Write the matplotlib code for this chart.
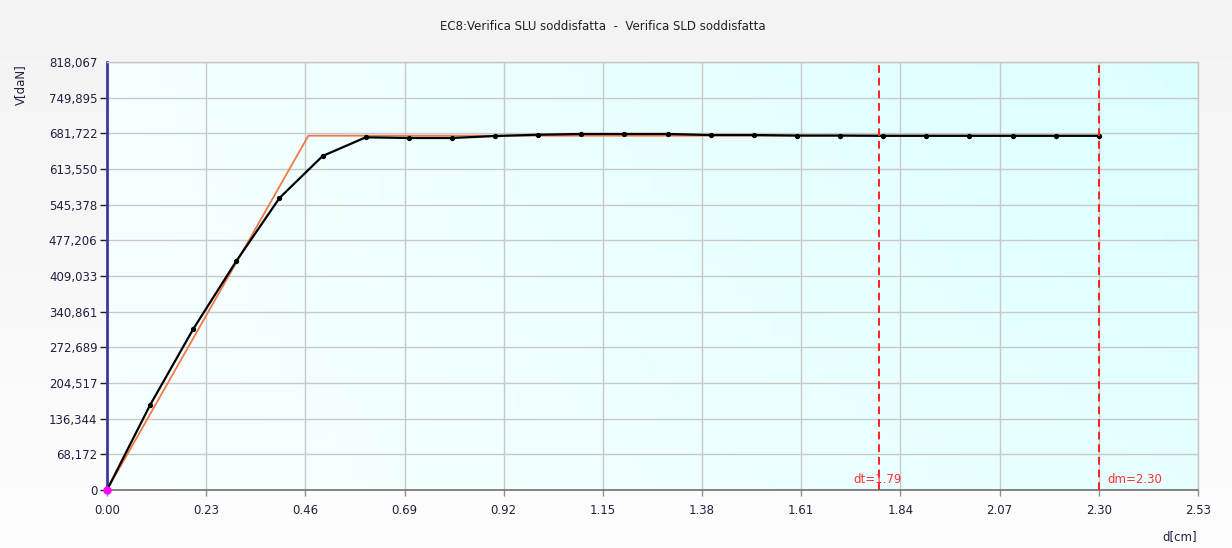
import numpy as np
import matplotlib.pyplot as plt
from matplotlib.colors import to_rgb

# capacity curve (black) sampled every 0.1 cm
d_curve = [0.0, 0.1, 0.2, 0.3, 0.4, 0.5, 0.6, 0.7, 0.8, 0.9, 1.0, 1.1,
           1.2, 1.3, 1.4, 1.5, 1.6, 1.7, 1.8, 1.9, 2.0, 2.1, 2.2, 2.3]
v_curve = [0.0, 162.5, 307.7, 437.7, 558.1, 638.4, 674.1, 672.8, 672.8, 676.6, 679.1, 680.5,
           680.5, 680.5, 678.5, 678.5, 677.5, 677.5, 677.0, 677.0, 677.0, 677.0, 677.0, 677.0]

# equivalent bilinear (orange)
d_bilin = [0.0, 0.467, 2.30]
v_bilin = [0.0, 677.2, 677.2]

dt = 1.79
dm = 2.30

x_ticks = [0.00, 0.23, 0.46, 0.69, 0.92, 1.15, 1.38, 1.61, 1.84, 2.07, 2.30, 2.53]
y_ticks = [0.0, 68.172, 136.344, 204.517, 272.689, 340.861, 409.033,
           477.206, 545.378, 613.550, 681.722, 749.895, 818.067]
y_labels = ['0', '68,172', '136,344', '204,517', '272,689', '340,861', '409,033',
            '477,206', '545,378', '613,550', '681,722', '749,895', '818,067']

title = 'EC8:Verifica SLU soddisfatta  -  Verifica SLD soddisfatta'

plt.rcParams['font.family'] = ['DejaVu Sans']

fig = plt.figure(figsize=(12.32, 5.48), dpi=100)

# soft gray-to-white window background
bg = fig.add_axes([0, 0, 1, 1], zorder=-10)
top = np.array(to_rgb('#f3f3f3'))
bot = np.array(to_rgb('#fdfdfd'))
t = np.linspace(0, 1, 64)[:, None]
bg.imshow((top * (1 - t) + bot * t)[:, None, :].repeat(2, axis=1),
          aspect='auto', extent=[0, 1, 0, 1])
bg.set_axis_off()

ax = fig.add_axes([107 / 1232, 1 - 490 / 548, 1091 / 1232, 428 / 548])
ax.set_xlim(0, 2.53)
ax.set_ylim(0, 818.067)

# light cyan gradient for the plot area
c_tl = np.array(to_rgb('#f5ffff'))
c_tr = np.array(to_rgb('#dbffff'))
c_bl = np.array(to_rgb('#f8ffff'))
c_br = np.array(to_rgb('#e6ffff'))
u = np.linspace(0, 1, 64)
U, V = np.meshgrid(u, u)
grad = ((1 - U)[..., None] * ((1 - V)[..., None] * c_tl + V[..., None] * c_bl)
        + U[..., None] * ((1 - V)[..., None] * c_tr + V[..., None] * c_br))
ax.imshow(grad, aspect='auto', extent=[0, 1, 0, 1], transform=ax.transAxes, zorder=0)

ax.set_xticks(x_ticks)
ax.set_xticklabels(['%.2f' % x for x in x_ticks])
ax.set_yticks(y_ticks)
ax.set_yticklabels(y_labels)
ax.grid(True, color='#c8c8c8', lw=1, zorder=1)
ax.tick_params(axis='y', length=5, width=1, color='#202020', labelsize=8.5, labelcolor='#202040', pad=2)
ax.tick_params(axis='x', length=4, width=1, color='#909090', labelsize=8.5, labelcolor='#202040', pad=6)
# the top value carries no tick mark
ax.yaxis.get_major_ticks()[-1].tick1line.set_visible(False)

for side in ['top', 'right']:
    ax.spines[side].set_color('#c4c4c4')
    ax.spines[side].set_linewidth(1)
ax.spines['bottom'].set_color('#707070')
ax.spines['bottom'].set_linewidth(1.2)
ax.spines['left'].set_color('#3a3a9a')
ax.spines['left'].set_linewidth(2)

ax.plot(d_bilin, v_bilin, color='#f07848', lw=1.3, zorder=3)
ax.plot(d_curve, v_curve, color='black', lw=1.6, marker='o', ms=2.8, zorder=4)
ax.plot([0], [0], marker='o', color='#ff00ff', ms=5, zorder=6, clip_on=False)

for xv in (dt, dm):
    ax.axvline(xv, color='#ff2020', lw=1.4, ls=(0, (4, 2.5)), zorder=5)
ax.text(dt - 0.002, 8, 'dt=%.2f' % dt, color='#ff3030', fontsize=8.5, ha='center', va='bottom', zorder=6)
ax.text(dm + 0.02, 8, 'dm=%.2f' % dm, color='#ff3030', fontsize=8.5, ha='left', va='bottom', zorder=6)

fig.text(603 / 1232, 1 - 27 / 548, title, ha='center', va='center', fontsize=8.5, color='#202020')
fig.text(20 / 1232, 1 - 85 / 548, 'V[daN]', rotation=90, ha='center', va='center', fontsize=8.5, color='#202040')
fig.text(1180 / 1232, 1 - 537 / 548, 'd[cm]', ha='center', va='center', fontsize=8.5, color='#202040')

fig.savefig('out.png', dpi=100)
